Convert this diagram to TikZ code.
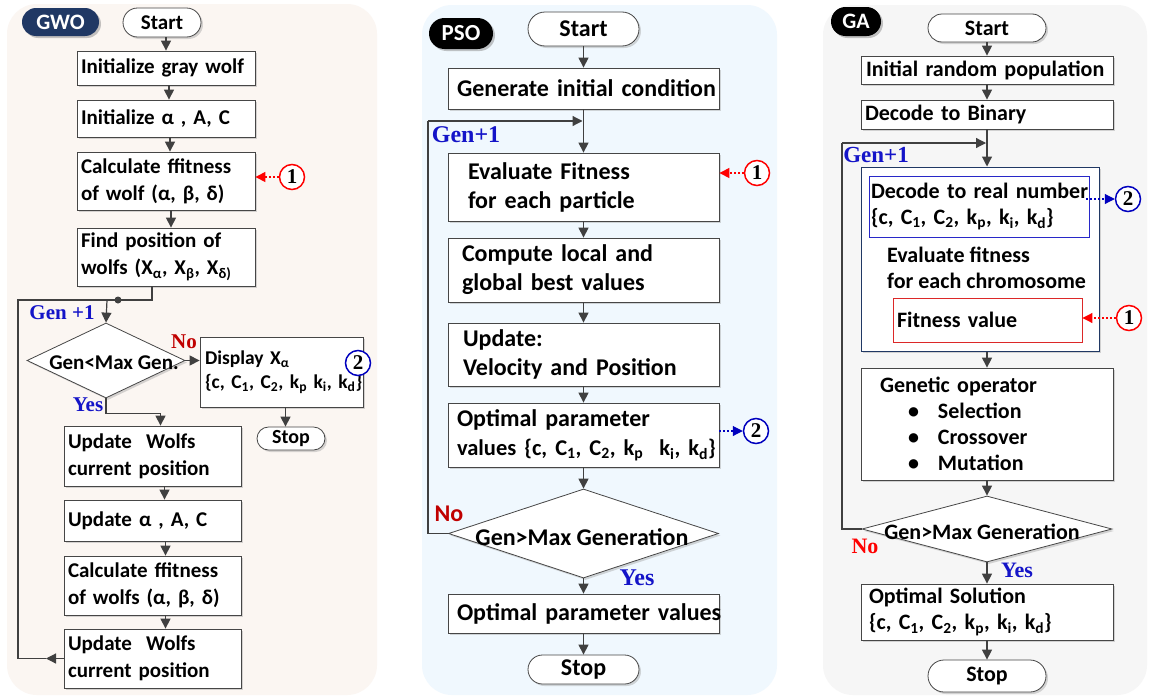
\documentclass[tikz,border=0pt]{standalone}
\usepackage{fontspec}
\setmainfont{Carlito}
\newfontfamily\tnr{Liberation Serif}
\usetikzlibrary{arrows.meta,shadows,shapes.geometric,calc}
\definecolor{lc}{RGB}{64,64,64}
\definecolor{bc}{RGB}{70,70,70}
\definecolor{gwobg}{RGB}{251,246,242}
\definecolor{psobg}{RGB}{240,248,254}
\definecolor{gabg}{RGB}{246,246,246}
\definecolor{navy}{RGB}{32,56,100}
\definecolor{genblue}{RGB}{20,20,200}
\definecolor{numblue}{RGB}{0,0,190}
\definecolor{numred}{RGB}{255,0,0}
\definecolor{darkred}{RGB}{192,0,0}
\definecolor{boxblue}{RGB}{40,40,200}
\definecolor{boxred}{RGB}{220,40,40}
\tikzset{
  shd/.style={drop shadow={shadow xshift=2pt,shadow yshift=-2pt,fill=black!35,opacity=0.45}},
  ln/.style={draw=lc, line width=1.2pt},
  arr/.style={ln, -{Triangle[length=10pt,width=10pt]}},
  dsh/.style={line width=1.1pt, dash pattern=on 2pt off 2pt, -{Triangle[length=10pt,width=10pt]}},
  box/.style={draw=bc, line width=0.8pt, fill=white, align=left, inner ysep=0pt, shd},
  term/.style={draw=bc, line width=0.8pt, fill=white, inner sep=0pt, shd},
  dia/.style={diamond, draw=bc, line width=0.8pt, fill=white, inner sep=0pt, shd},
  pill/.style={text=white, inner sep=0pt, drop shadow={shadow xshift=2pt,shadow yshift=-2pt,fill=black!45,opacity=0.5}},
  num/.style={circle, line width=1.5pt, fill=white, minimum size=25pt, inner sep=0pt, font=\tnr\bfseries\fontsize{21}{21}\selectfont},
  gwof/.style={font=\bfseries\fontsize{21}{27}\selectfont},
  psof/.style={font=\bfseries\fontsize{24}{29}\selectfont},
  gaf/.style={font=\bfseries\fontsize{22}{26}\selectfont},
  lbl/.style={inner sep=0pt},
  serifl/.style={lbl, font=\tnr\bfseries\fontsize{#1}{#1}\selectfont},
}
\begin{document}
\begin{tikzpicture}[x=1pt,y=-1pt]
\useasboundingbox (0,0) rectangle (1150,699);
\fill[white] (0,0) rectangle (1150,699);
% ================= GWO =================
\fill[gwobg, rounded corners=30pt] (7,4) rectangle (377,695);
\node[pill, fill=navy, minimum width=77pt, minimum height=28pt, rounded corners=14pt, font=\bfseries\fontsize{22}{22}\selectfont] (gwolab) at (60.5,22) {GWO};
\node[term, minimum width=78pt, minimum height=29pt, rounded corners=14.5pt, gwof] (gstart) at (162,22.5) {Start};
\node[box, gwof, minimum height=34pt, text width=170pt, inner xsep=4pt] (g1) at (166,68) {\mbox{Initialize gray wolf}};
\node[box, gwof, minimum height=37pt, text width=170pt, inner xsep=4pt] (g2) at (166,118.5) {\mbox{Initialize α , A, C}};
\node[box, gwof, minimum height=58pt, text width=170pt, inner xsep=4pt] (g3) at (166,181) {\mbox{Calculate ffitness}\\\mbox{of wolf (α, β, δ)}};
\node[box, gwof, minimum height=58pt, text width=170pt, inner xsep=4pt] (g4) at (166,257) {\mbox{Find position of}\\\mbox{wolfs (X\textsubscript{α}, X\textsubscript{β}, X\textsubscript{δ)}}};
\node[dia, minimum width=158pt, minimum height=75pt] (gdia) at (106,360.5) {};
\node[lbl, gwof] (gdiat) at (114,363) {Gen<Max Gen.};
\node[box, font=\bfseries\fontsize{19.5}{24}\selectfont, minimum height=70pt, text width=153pt, inner xsep=5pt] (gdisp) at (281.5,372) {\mbox{Display X\textsubscript{α}}\\\mbox{\{c, C\textsubscript{1}, C\textsubscript{2}, k\textsubscript{p} k\textsubscript{i}, k\textsubscript{d}\}}};
\node[num, draw=numblue] (gc2) at (358,363) {2};
\node[term, minimum width=68pt, minimum height=23pt, rounded corners=11.5pt, font=\bfseries\fontsize{20}{20}\selectfont] (gstop) at (291,438.5) {Stop};
\node[box, gwof, minimum height=60pt, text width=169pt, inner xsep=4pt] (g5) at (152.5,456) {\mbox{Update~ Wolfs}\\\mbox{current position}};
\node[box, gwof, minimum height=41pt, text width=169pt, inner xsep=4pt] (g6) at (152.5,520.5) {\mbox{Update α , A, C}};
\node[box, gwof, minimum height=59pt, text width=169pt, inner xsep=4pt] (g7) at (152.5,585.5) {\mbox{Calculate ffitness}\\\mbox{of wolfs (α, β, δ)}};
\node[box, gwof, minimum height=59pt, text width=169pt, inner xsep=4pt] (g8) at (152.5,658.5) {\mbox{Update~ Wolfs}\\\mbox{current position}};
\node[num, draw=numred] (gc1) at (292,177) {1};
\node[serifl=21, text=genblue] (ggen) at (62,313) {Gen +1};
\node[serifl=21, text=darkred] (gno) at (184,342) {No};
\node[serifl=21, text=genblue] (gyes) at (88,405) {Yes};
% GWO connectors
\draw[arr] (g1.north |- gstart.south) -- (g1.north);
\draw[arr] ([xshift=3pt]g1.south) -- ([xshift=3pt]g2.north);
\draw[arr] ([xshift=4pt]g2.south) -- ([xshift=4pt]g3.north);
\draw[arr] ([xshift=5pt]g3.south) -- ([xshift=5pt]g4.north);
\coordinate (gx) at (152,300);
\coordinate (gL) at (18,300);
\coordinate (gLb) at (18,658.5);
\coordinate (gLa) at (46,658.5);
\coordinate (gdot) at (118,300);
\coordinate (gtop) at (107,300);
\draw[ln] (g4.south -| gx) -- (gx) -- (gL) -- (gLb) -- (gLa);
\draw[arr] (g8.west) -- (gLa);
\fill[lc] (gdot) circle (3.5pt);
\draw[arr] (gtop) -- (gdia.north);
\draw[arr] (gdia.east) -- (gdia.east -| gdisp.west);
\draw[arr] ([xshift=4pt]gdisp.south) -- ([xshift=4pt]gdisp.south |- gstop.north);
\draw[arr] (gdia.south) -- ++(0,15) -| ([xshift=8pt]g5.north);
\draw[arr] ([xshift=12pt]g5.south) -- ([xshift=12pt]g6.north);
\draw[arr] ([xshift=13pt]g6.south) -- ([xshift=13pt]g7.north);
\draw[arr] ([xshift=13pt]g7.south) -- ([xshift=13pt]g8.north);
\draw[dsh, draw=numred] (gc1.west) -- (gc1.west -| g3.east);
% ================= PSO =================
\fill[psobg, rounded corners=30pt] (422,5) rectangle (777,695);
\node[pill, fill=black, minimum width=64pt, minimum height=31pt, rounded corners=15.5pt, font=\bfseries\fontsize{23}{23}\selectfont] (plab) at (461,33.5) {PSO};
\node[term, minimum width=111pt, minimum height=34pt, rounded corners=17pt, psof] (pstart) at (583.5,29) {Start};
\node[box, psof, minimum height=41pt, text width=253pt, inner xsep=9pt] (p1) at (583.5,88.5) {\mbox{Generate initial condition}};
\node[box, psof, minimum height=68pt, text width=231pt, inner xsep=20pt] (p2) at (583.5,187) {\mbox{Evaluate Fitness}\\\mbox{for each particle}};
\node[box, psof, minimum height=64pt, text width=243pt, inner xsep=14pt] (p3) at (583.5,270) {\mbox{Compute local and}\\\mbox{global best values}};
\node[box, psof, minimum height=63pt, text width=241pt, inner xsep=15pt] (p4) at (583.5,354.5) {\mbox{Update:}\\\mbox{Velocity and Position}};
\node[box, psof, minimum height=64pt, text width=253pt, inner xsep=9pt] (p5) at (583.5,435) {\mbox{Optimal parameter}\\\mbox{\fontsize{22.5}{29}\selectfont values \{c, C\textsubscript{1}, C\textsubscript{2}, k\textsubscript{p}~ k\textsubscript{i}, k\textsubscript{d}\}}};
\node[dia, minimum width=270pt, minimum height=89pt] (pdia) at (583.5,533.5) {};
\node[lbl, psof] (pdiat) at (582,537) {Gen>Max Generation};
\node[box, psof, minimum height=39pt, text width=253pt, inner xsep=9pt] (p6) at (583.5,613.5) {\mbox{Optimal parameter values}};
\node[term, minimum width=111pt, minimum height=29pt, rounded corners=14.5pt, psof] (pstop) at (583.5,669.5) {Stop};
\node[num, draw=numred] (pc1) at (757,173) {1};
\node[num, draw=numblue] (pc2) at (756,431) {2};
\node[serifl=24, text=genblue] (pgen) at (466,135) {Gen+1};
\node[lbl, psof, text=darkred] (pno) at (449,514) {No};
\node[serifl=24, text=genblue] (pyes) at (637,578) {Yes};
% PSO connectors
\draw[arr] (pstart.south) -- (p1.north);
\draw[arr] (p1.south) -- (p2.north);
\draw[arr] (p2.south) -- (p3.north);
\draw[arr] (p3.south) -- (p4.north);
\draw[arr] (p4.south) -- (p5.north);
\draw[arr] (p5.south) -- (pdia.north);
\draw[arr] (pdia.south) -- (p6.north);
\draw[arr] (p6.south) -- (pstop.north);
\coordinate (pL1) at (428,533.5);
\coordinate (pL2) at (428,121);
\coordinate (pJ) at (582.5,121);
\draw[ln] (pdia.west) -- (pL1) -- (pL2);
\draw[arr] (pL2) -- (pJ);
\draw[dsh, draw=numred] (pc1.west) -- (pc1.west -| p2.east);
\draw[dsh, draw=numblue] (p5.east |- pc2) -- (pc2.west);
% ================= GA =================
\fill[gabg, rounded corners=30pt] (823,5) rectangle (1147,695);
\node[pill, fill=black, minimum width=50pt, minimum height=29pt, rounded corners=14.5pt, font=\bfseries\fontsize{22}{22}\selectfont] (alab) at (856,21.5) {GA};
\node[term, minimum width=118pt, minimum height=28pt, rounded corners=14pt, gaf] (astart) at (987,28) {Start};
\node[box, gaf, minimum height=28pt, text width=242pt, inner xsep=5pt] (a1) at (987,70) {\mbox{Initial random population}};
\node[box, gaf, minimum height=29pt, text width=244pt, inner xsep=4pt] (a2) at (987,114.5) {\mbox{Decode to Binary}};
\node[draw=navy, line width=1pt, fill=white, minimum width=238pt, minimum height=184pt, inner sep=0pt, shd] (abig) at (980,259) {};
\node[draw=boxblue, line width=0.9pt, fill=white, align=left, inner ysep=0pt, gaf, minimum height=61pt, text width=216pt, inner xsep=2pt] (ablue) at (979,206.5) {\mbox{Decode to real number}\\\mbox{\{c, C\textsubscript{1}, C\textsubscript{2}, k\textsubscript{p}, k\textsubscript{i}, k\textsubscript{d}\}}};
\node[lbl, gaf, anchor=west, align=left] (aeval) at (887,268) {Evaluate fitness\\for each chromosome};
\node[draw=boxred, line width=0.9pt, fill=white, align=left, inner ysep=0pt, gaf, minimum height=44pt, text width=181pt, inner xsep=4pt] (ared) at (987.5,320) {\mbox{Fitness value}};
\node[box, gaf, minimum height=112pt, text width=214pt, inner xsep=19pt] (a3) at (987,424) {\mbox{Genetic operator}\\\mbox{\hspace*{28pt}•\hspace*{19pt}Selection}\\\mbox{\hspace*{28pt}•\hspace*{19pt}Crossover}\\\mbox{\hspace*{28pt}•\hspace*{19pt}Mutation}};
\node[dia, minimum width=250pt, minimum height=66pt] (adia) at (987,529) {};
\node[lbl, gaf] (adiat) at (982,532) {Gen>Max Generation};
\node[box, gaf, minimum height=56pt, text width=236pt, inner xsep=8pt] (a4) at (987,612) {\mbox{Optimal Solution}\\\mbox{\{c, C\textsubscript{1}, C\textsubscript{2}, k\textsubscript{p}, k\textsubscript{i}, k\textsubscript{d}\}}};
\node[term, minimum width=118pt, minimum height=32pt, rounded corners=16pt, gaf] (astop) at (987,676) {Stop};
\node[num, draw=numblue] (ac2) at (1128,199) {2};
\node[num, draw=numred] (ac1) at (1129,318) {1};
\node[serifl=23, text=genblue] (agen) at (876,155) {Gen+1};
\node[serifl=22, text=numred] (ano) at (865,546) {No};
\node[serifl=22, text=genblue] (ayes) at (1017,570) {Yes};
% GA connectors
\draw[arr] (astart.south) -- (a1.north);
\draw[arr] (a1.south) -- (a2.north);
\draw[arr] (a2.south) -- (a2.south |- abig.north);
\draw[arr] (abig.south -| a3.north) -- (a3.north);
\draw[arr] (a3.south) -- (adia.north);
\draw[arr] (adia.south) -- (a4.north);
\draw[arr] (a4.south) -- (astop.north);
\coordinate (aL1) at (842,529);
\coordinate (aL2) at (842,143);
\coordinate (aJ) at (986,143);
\draw[ln] (adia.west) -- (aL1) -- (aL2);
\draw[arr] (aL2) -- (aJ);
\coordinate (ac2s) at (1086,199);
\draw[dsh, draw=numblue] (ac2s) -- (ac2.west);
\draw[dsh, draw=numred] (ac1.west) -- (ac1.west -| ared.east);
\end{tikzpicture}
\end{document}
